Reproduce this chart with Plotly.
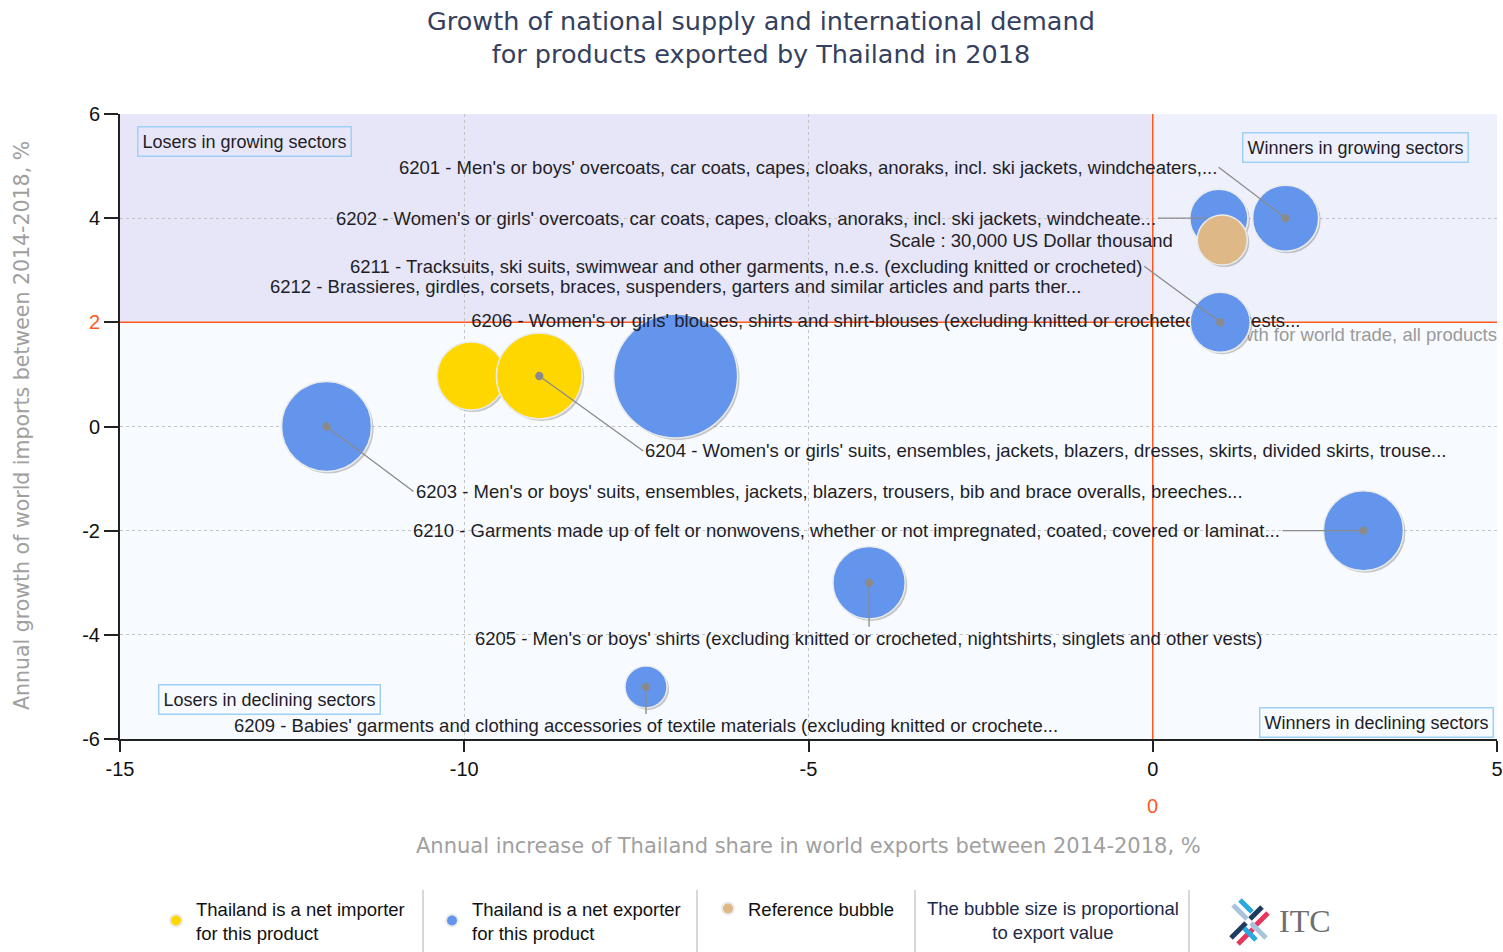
import plotly.graph_objects as go

# ---------------- data ----------------
products = ["6201", "6202", "6211", "6212", "6206", "6204", "6203", "6210", "6205", "6209"]
descriptions = [
    "6201 - Men's or boys' overcoats, car coats, capes, cloaks, anoraks, incl. ski jackets, windcheaters,...",
    "6202 - Women's or girls' overcoats, car coats, capes, cloaks, anoraks, incl. ski jackets, windcheate...",
    "6211 - Tracksuits, ski suits, swimwear and other garments, n.e.s. (excluding knitted or crocheted)",
    "6212 - Brassieres, girdles, corsets, braces, suspenders, garters and similar articles and parts ther...",
    "6206 - Women's or girls' blouses, shirts and shirt-blouses (excluding knitted or crocheted, and vests...",
    "6204 - Women's or girls' suits, ensembles, jackets, blazers, dresses, skirts, divided skirts, trouse...",
    "6203 - Men's or boys' suits, ensembles, jackets, blazers, trousers, bib and brace overalls, breeches...",
    "6210 - Garments made up of felt or nonwovens, whether or not impregnated, coated, covered or laminat...",
    "6205 - Men's or boys' shirts (excluding knitted or crocheted, nightshirts, singlets and other vests)",
    "6209 - Babies' garments and clothing accessories of textile materials (excluding knitted or crochete...",
]
share_growth = [1.93, 0.96, 0.98, -6.93, -9.90, -8.91, -12.0, 3.06, -4.12, -7.36]   # x, %
import_growth = [4.0, 4.0, 2.0, 0.97, 0.97, 0.97, 0.0, -2.0, -3.0, -5.0]          # y, %
export_value = [52300, 40400, 43200, 184500, 55500, 88750, 97200, 76800, 62700, 21200]  # US$ thousand
net_trade = ["exporter", "exporter", "exporter", "exporter", "importer",
             "importer", "exporter", "exporter", "exporter", "exporter"]

ref_x, ref_y, ref_value = [1.01], [3.58], [30000]
world_growth = 2.0      # average growth of world imports (horizontal reference line)
country_ref = 0.0       # vertical reference line

x_range = [-15, 5]
y_range = [-6, 6]
x_ticks = [-15, -10, -5, 0, 5]
y_ticks = [-6, -4, -2, 0, 2, 4, 6]

# ---------------- layout constants ----------------
W, H = 1503, 952
ML, MR, MT, MB = 120, 6, 114, 213
PW, PH = W - ML - MR, H - MT - MB
REF_DIAM = 50
sizeref = 2 * ref_value[0] / REF_DIAM ** 2

BLUE, YELLOW, TAN = "#6495ED", "#FFD700", "#DEB887"
RED = "#FF5A1E"
LBL_FONT = "Liberation Sans, Arial, sans-serif"
LS = 18.5
TXT = "#1e1e28"
OUTLINE = dict(color="rgba(235,235,235,1)", width=1.5)

dx = 2 * (x_range[1] - x_range[0]) / PW
dy = -2 * (y_range[1] - y_range[0]) / PH

fig = go.Figure()

idx_imp = [i for i, n in enumerate(net_trade) if n == "importer"]
idx_exp = [i for i, n in enumerate(net_trade) if n == "exporter"]
idx_top = [i for i in idx_exp if import_growth[i] >= world_growth and share_growth[i] >= country_ref]
idx_6206 = products.index("6206")

# text under the winners' bubbles
fig.add_trace(go.Scatter(
    x=[x_range[1]], y=[world_growth - 0.1], mode="text", text=["Growth for world trade, all products"],
    textposition="bottom left", textfont=dict(family=LBL_FONT, size=LS, color="#9a9a9a"),
    showlegend=False, hoverinfo="skip"))

# shadows
all_x = share_growth + ref_x
all_y = import_growth + ref_y
all_v = export_value + ref_value
fig.add_trace(go.Scatter(
    x=[v + dx for v in all_x], y=[v + dy for v in all_y], mode="markers",
    marker=dict(size=all_v, sizemode="area", sizeref=sizeref, color="rgba(80,80,80,0.3)",
                opacity=1, line=dict(width=0)),
    showlegend=False, hoverinfo="skip"))

def add_bubbles(idx, color, name, showlegend=True):
    fig.add_trace(go.Scatter(
        x=[share_growth[i] for i in idx], y=[import_growth[i] for i in idx],
        mode="markers", name=name, showlegend=showlegend,
        text=[descriptions[i] for i in idx],
        customdata=[export_value[i] for i in idx],
        hovertemplate="%{text}<br>x=%{x}<br>y=%{y}<br>value=%{customdata}<extra></extra>",
        marker=dict(size=[export_value[i] for i in idx], sizemode="area", sizeref=sizeref,
                    color=color, opacity=1, line=OUTLINE)))

add_bubbles(idx_imp, YELLOW, "Thailand is a net importer<br>for this product")
add_bubbles(idx_exp, BLUE, "Thailand is a net exporter<br>for this product")

# 6206 label: above the large bubbles, below the winners' bubbles
fig.add_trace(go.Scatter(
    x=[share_growth[idx_6206]], y=[world_growth - 0.01], mode="text", text=[descriptions[idx_6206]],
    textposition="middle right", textfont=dict(family=LBL_FONT, size=LS, color=TXT),
    showlegend=False, hoverinfo="skip"))
add_bubbles(idx_top, BLUE, "top", showlegend=False)

fig.add_trace(go.Scatter(
    x=ref_x, y=ref_y, mode="markers", name="Reference bubble",
    marker=dict(size=ref_value, sizemode="area", sizeref=sizeref, color=TAN, opacity=1, line=OUTLINE),
    hovertemplate="Reference bubble: %{marker.size}<extra></extra>"))

# ---------------- labels ----------------
# (product, ax, ay, xanchor, arrowhead, standoff)
arrow_labels = [
    ("6201", -67, -51, "right", 6, 0),
    ("6202", -61, 0, "right", 0, 12),
    ("6211", -76, -56, "right", 6, 0),
    ("6204", 104, 75, "left", 6, 0),
    ("6203", 87, 65, "left", 6, 0),
    ("6210", -81, 0, "right", 6, 0),
    ("6205", 0, 56, "center", 6, 0),
    ("6209", 0, 39, "center", 6, 0),
]
annotations = []
for p, ax, ay, xa, head, so in arrow_labels:
    i = products.index(p)
    annotations.append(dict(
        x=share_growth[i], y=import_growth[i], xref="x", yref="y",
        text=descriptions[i], showarrow=True, ax=ax, ay=ay, xanchor=xa, yanchor="middle",
        arrowhead=head, arrowsize=1.6, arrowwidth=1.3, arrowcolor="#8a8a8a", standoff=so,
        font=dict(family=LBL_FONT, size=LS, color=TXT)))

i6212 = products.index("6212")
annotations.append(dict(
    x=share_growth[i6212], y=import_growth[i6212], xref="x", yref="y",
    text=descriptions[i6212], showarrow=False, xanchor="right", yanchor="middle",
    xshift=407, yshift=89, font=dict(family=LBL_FONT, size=LS, color=TXT)))
annotations.append(dict(
    x=ref_x[0], y=ref_y[0], xref="x", yref="y",
    text="Scale : 30,000 US Dollar thousand", showarrow=False, xanchor="right", yanchor="middle",
    xshift=-47, font=dict(family=LBL_FONT, size=LS, color=TXT)))

def px_x(px):
    return (px - ML) / PW

def px_y(py):
    return (H - MB - py) / PH

# title
annotations.append(dict(
    x=px_x(761), y=px_y(37), xref="paper", yref="paper",
    text="Growth of national supply and international demand<br>for products exported by Thailand in 2018",
    showarrow=False, xanchor="center", yanchor="middle", align="center",
    font=dict(family="DejaVu Sans, Verdana", size=25.5, color="#34405E")))

# quadrant boxes
quad = [
    ("Losers in growing sectors", px_x(137), px_y(126), "left", "top"),
    ("Winners in growing sectors", px_x(1469), px_y(132), "right", "top"),
    ("Losers in declining sectors", px_x(158), px_y(715), "left", "bottom"),
    ("Winners in declining sectors", px_x(1494), px_y(738), "right", "bottom"),
]
for t, x, y, xa, ya in quad:
    annotations.append(dict(
        x=x, y=y, xref="paper", yref="paper", text=t, showarrow=False, xanchor=xa, yanchor=ya,
        bordercolor="#9fd0f5", borderwidth=1.5, borderpad=4,
        font=dict(family=LBL_FONT, size=18, color=TXT)))

# orange 0 under x axis (reference line label)
annotations.append(dict(
    x=country_ref, y=px_y(806), xref="x", yref="paper", text="0", showarrow=False,
    xanchor="center", yanchor="middle", font=dict(family="Liberation Sans, Arial", size=20, color=RED)))

# axis titles
annotations.append(dict(
    x=px_x(808), y=px_y(846), xref="paper", yref="paper",
    text="Annual increase of Thailand share in world exports between 2014-2018, %",
    showarrow=False, xanchor="center", yanchor="middle",
    font=dict(family="DejaVu Sans, Verdana", size=21, color="#a0a0a0")))
annotations.append(dict(
    x=px_x(22), y=px_y(426), xref="paper", yref="paper",
    text="Annual growth of world imports between 2014-2018, %", textangle=-90,
    showarrow=False, xanchor="center", yanchor="middle",
    font=dict(family="DejaVu Sans, Verdana", size=20.5, color="#a0a0a0")))

# legend extras
annotations.append(dict(
    x=px_x(1053), y=px_y(920), xref="paper", yref="paper",
    text="The bubble size is proportional<br>to export value", showarrow=False,
    xanchor="center", yanchor="middle", align="center",
    font=dict(family=LBL_FONT, size=LS, color="#1c2a48")))
annotations.append(dict(
    x=px_x(1277), y=px_y(921), xref="paper", yref="paper", text="ITC", showarrow=False,
    xanchor="left", yanchor="middle",
    font=dict(family="Liberation Serif, Times New Roman, serif", size=32, color="#6f6f6f")))

shapes = [
    dict(type="rect", xref="x", yref="y", x0=x_range[0], x1=country_ref, y0=world_growth, y1=y_range[1],
         fillcolor="#E6E6F8", line=dict(width=0), layer="below"),
    dict(type="rect", xref="x", yref="y", x0=country_ref, x1=x_range[1], y0=world_growth, y1=y_range[1],
         fillcolor="#EEF1FB", line=dict(width=0), layer="below"),
    dict(type="line", xref="x", yref="y", x0=country_ref, x1=country_ref, y0=y_range[0], y1=y_range[1],
         line=dict(color=RED, width=1.5), layer="between"),
    dict(type="line", xref="x", yref="y", x0=x_range[0], x1=x_range[1], y0=world_growth, y1=world_growth,
         line=dict(color=RED, width=1.5), layer="between"),
]
for sx in [423, 697, 915, 1189]:
    shapes.append(dict(type="line", xref="paper", yref="paper", x0=px_x(sx), x1=px_x(sx),
                       y0=px_y(890), y1=px_y(952), line=dict(color="#b0b0b0", width=1)))
logo = [
    ((1231, 938), (1246, 923), "#1F3A5F"),
    ((1250, 919), (1262, 907), "#1F3A5F"),
    ((1238, 944), (1253, 929), "#E8365D"),
    ((1256, 925), (1268, 913), "#E8365D"),
    ((1233, 905), (1247, 919), "#A9C3DB"),
    ((1251, 923), (1266, 938), "#A9C3DB"),
    ((1240, 900), (1252, 912), "#2AA8E0"),
    ((1244, 928), (1256, 940), "#2AA8E0"),
]
for (x0, y0), (x1, y1), c in logo:
    shapes.append(dict(type="line", xref="paper", yref="paper", x0=px_x(x0), y0=px_y(y0),
                       x1=px_x(x1), y1=px_y(y1), line=dict(color=c, width=5)))

ytext = [f'<span style="color:{RED}">{v}</span>' if v == world_growth else str(v) for v in y_ticks]
xtext = [str(v) for v in x_ticks]

fig.update_layout(
    width=W, height=H, margin=dict(l=ML, r=MR, t=MT, b=MB, autoexpand=False),
    paper_bgcolor="white", plot_bgcolor="#F7FAFE",
    xaxis=dict(range=x_range, tickvals=x_ticks, ticktext=xtext, showgrid=True, griddash="dot",
               gridcolor="#c4c4c4", gridwidth=1, zeroline=False, showline=True, linecolor="#222",
               linewidth=2, ticks="outside", ticklen=11, tickwidth=2, tickcolor="#222",
               tickfont=dict(family="Liberation Sans, Arial", size=20, color="#111")),
    yaxis=dict(range=y_range, tickvals=y_ticks, ticktext=ytext, showgrid=True, griddash="dot",
               gridcolor="#c4c4c4", gridwidth=1, zeroline=False, showline=True, linecolor="#222",
               linewidth=2, ticks="outside", ticklen=14, tickwidth=2, tickcolor="#222",
               tickfont=dict(family="Liberation Sans, Arial", size=20, color="#111")),
    legend=dict(orientation="h", x=px_x(156), y=px_y(921), xanchor="left", yanchor="middle",
                entrywidth=231, entrywidthmode="pixels", itemsizing="constant",
                font=dict(family=LBL_FONT, size=LS, color="#111"), bgcolor="rgba(0,0,0,0)"),
    annotations=annotations, shapes=shapes,
)

fig.write_html("out.html", config={"displayModeBar": False},
               post_script="document.body.style.margin='0px';")
